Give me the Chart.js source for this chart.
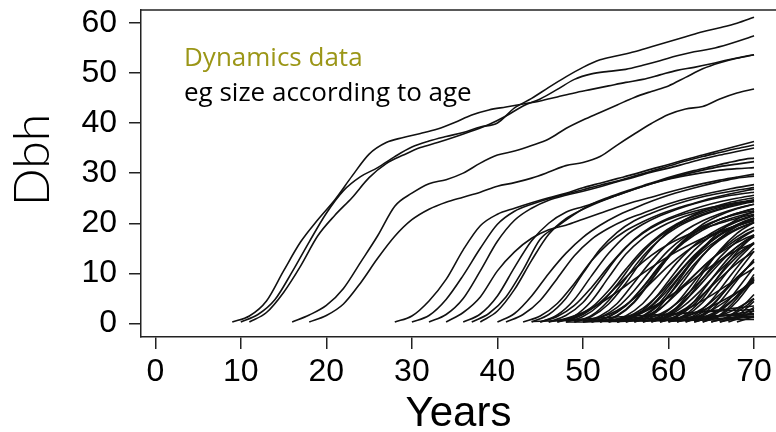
<!DOCTYPE html>
<html>
<head>
<meta charset="utf-8">
<script src="https://cdn.jsdelivr.net/npm/chart.js@4.4.1/dist/chart.umd.min.js"></script>
<style>
  html, body { margin: 0; padding: 0; background: #fff; overflow: hidden; }
  #wrap { position: relative; width: 776px; height: 432px; }
</style>
</head>
<body>
<div id="wrap"><canvas id="c" width="776" height="432"></canvas></div>
<script>
// ---- tick labels ----
const xTickValues = [0, 10, 20, 30, 40, 50, 60, 70];
const yTickValues = [0, 10, 20, 30, 40, 50, 60];
const xTitle = "Years";
const yTitle = "Dbh";
const noteLine1 = "Dynamics data";
const noteLine2 = "eg size according to age";
const yearStep = 2; // values are read every 2 years from each tree's first year, last point at year 70

// ---- oldest trees (recruited 9-18) ----
const oldStarts = [9, 10, 11, 16, 18];
const oldDbh = [
  [0.3,1.5,4.5,10.5,16.3,20.7,24.7,29.4,33.8,36.1,37.1,37.9,38.8,40.1,41.6,42.6,43.2,43.8,44.4,45.2,46.0,46.7,47.4,48.1,48.7,49.6,50.5,51.1,51.8,52.6,53.3,53.6],
  [0.3,1.8,4.8,10.3,16.3,22.0,26.5,29.3,31.1,33.3,35.2,36.4,37.3,38.1,39.2,40.0,43.0,44.9,47.1,49.2,51.1,52.6,53.4,54.2,55.2,56.2,57.2,58.2,59.0,59.9,61.1],
  [0.3,2.2,6.2,11.5,17.5,21.6,25.1,29.1,31.9,33.6,35.1,36.1,37.2,38.4,39.7,41.4,43.4,44.8,46.7,48.7,49.8,50.3,50.7,51.5,52.4,53.4,54.2,54.8,55.7,56.8,57.4],
  [0.3,1.7,3.6,7.0,12.2,17.5,23.4,26.0,27.9,28.7,30.0,32.0,33.6,34.4,35.5,36.8,38.9,40.6,42.1,43.6,45.1,46.3,47.4,49.1,50.8,52.0,52.9,53.6],
  [0.3,1.6,3.9,8.1,13.0,17.4,20.7,22.8,24.2,25.2,26.2,27.4,28.1,29.0,30.2,31.5,32.1,33.3,35.6,37.8,39.9,41.7,42.8,43.3,44.8,46.0,46.8]
];

// ---- middle cohort (recruited 28-43) ----
const midStarts = [28, 30, 32, 34, 37, 38, 36, 40, 41, 43];
const midDbh = [
  [0.3,1.5,4.5,8.8,14.7,19.5,21.8,23.0,24.1,25.1,26.0,27.1,28.0,28.9,29.8,30.8,31.7,32.7,33.6,34.5,35.4,36.3],
  [0.3,1.6,4.8,9.6,15.0,19.8,22.4,23.8,24.9,25.8,26.7,27.6,28.4,29.4,30.4,31.4,32.4,33.3,34.1,34.9,35.6],
  [0.3,1.8,5.0,10.5,16.4,20.6,23.0,24.6,25.6,26.4,27.3,28.3,29.2,30.2,31.0,31.9,32.8,33.6,34.3,35.0],
  [0.3,2.2,5.3,10.5,14.3,17.0,18.7,19.6,20.8,22.0,23.2,24.3,25.2,26.2,27.1,27.9,28.6,29.2,29.8],
  [0.3,2.0,5.3,10.7,16.8,19.4,21.8,23.8,25.2,26.4,27.5,28.6,29.6,30.5,31.3,32.1,32.8,33.0],
  [0.3,2.5,6.8,12.6,17.8,20.9,22.8,24.3,25.6,26.8,27.9,28.9,29.8,30.6,31.3,31.8,32.3],
  [0.3,1.9,5.5,11.2,16.5,20.0,22.2,23.3,24.4,25.6,26.8,27.9,28.8,29.5,30.1,30.6,30.9,31.1],
  [0.3,2.0,5.5,10.0,14.0,17.2,19.6,21.5,23.0,24.4,25.6,26.6,27.5,28.3,29.0,29.4],
  [0.3,1.8,4.6,9.0,13.5,16.8,19.0,20.7,22.0,23.3,24.4,25.3,26.1,26.8,27.4,27.7],
  [0.3,1.5,4.0,8.0,12.5,16.0,18.5,20.3,21.8,23.0,24.0,25.0,25.8,26.5,26.8]
];

// ---- young cohort (recruited 44-54) ----
const youngStarts = [44, 45, 46, 47, 48, 48, 49, 50, 51, 52, 53, 54, 46, 50, 45, 47, 49];
const youngDbh = [
  [0.3,1.8,5.0,10.0,14.8,18.2,20.5,22.0,23.3,24.4,25.3,26.0,26.6,27.1],
  [0.3,1.7,4.8,9.5,14.0,17.5,19.8,21.5,22.8,23.9,24.8,25.5,26.0,26.2],
  [0.3,1.6,4.2,8.6,13.2,16.8,19.3,21.0,22.3,23.4,24.3,25.0,25.6],
  [0.3,1.5,4.5,9.2,13.8,17.0,19.2,20.8,22.0,23.0,23.8,24.4,24.7],
  [0.3,1.4,3.8,7.8,12.3,16.0,18.6,20.4,21.8,22.9,23.8,24.5],
  [0.5,1.8,4.2,7.5,10.8,13.6,15.8,17.5,18.9,20.0,21.0,21.8],
  [0.3,1.6,4.6,9.0,13.4,16.8,19.2,20.9,22.2,23.2,24.0,24.3],
  [0.3,1.5,4.0,8.2,12.5,16.0,18.6,20.5,21.9,23.0,23.8],
  [0.3,1.4,3.6,7.3,11.6,15.3,18.0,20.0,21.4,22.5,22.9],
  [0.3,1.6,4.4,8.8,13.2,16.7,19.1,20.8,22.0,22.9],
  [0.3,1.5,4.0,8.0,12.2,15.6,18.0,19.8,21.1,21.6],
  [0.3,1.4,3.6,7.4,11.6,15.0,17.6,19.4,20.8],
  [0.3,1.0,2.2,4.0,6.3,8.8,11.2,13.4,15.3,17.0,18.4,19.6,20.6],
  [0.5,1.2,2.6,5.0,8.2,11.5,14.3,16.5,18.2,19.5,20.5],
  [0.3,1.4,3.6,7.2,11.4,15.2,18.0,20.0,21.4,22.4,23.2,23.8,24.3,24.5],
  [0.3,1.2,3.2,6.6,10.8,14.7,17.7,19.9,21.5,22.7,23.6,24.3,24.6],
  [0.3,1.4,3.9,8.0,12.8,16.8,19.7,21.7,23.1,24.1,24.8,25.1]
];

// ---- recent recruits (50-68) ----
const recentStarts = [55, 55, 56, 56, 57, 58, 58, 59, 60, 60, 61, 62, 62, 63, 64, 65, 66, 57, 59, 53, 54, 61, 63, 67, 52, 58, 60, 62, 64, 56,
                      50, 51, 53, 54, 55, 57, 59, 61, 63, 65, 52, 58, 66, 68];
const recentDbh = [
  [0.3,1.5,4.2,8.6,13.0,16.4,18.8,20.5,21.1],
  [0.5,1.3,3.0,6.0,9.6,12.8,15.2,17.0,17.7],
  [0.3,1.6,4.5,9.0,13.5,17.0,19.4,21.0],
  [0.5,1.2,2.8,5.5,9.0,12.5,15.3,17.4],
  [0.3,1.5,4.2,8.4,12.6,16.0,18.4,19.2],
  [0.3,1.6,4.6,9.0,13.2,16.4,18.6],
  [0.5,1.3,3.0,5.8,9.0,12.0,14.4],
  [0.3,1.6,4.4,8.8,13.0,16.2,17.3],
  [0.3,1.5,4.2,8.4,12.6,16.0],
  [0.5,1.3,3.0,5.8,9.2,12.3],
  [0.3,1.6,4.6,9.0,13.2,15.0],
  [0.3,1.5,4.3,8.6,12.8],
  [0.5,1.2,2.8,5.4,8.6],
  [0.3,1.6,4.6,9.0,11.2],
  [0.3,1.5,4.4,8.8],
  [0.3,1.4,4.0,5.8],
  [0.3,1.5,4.4],
  [0.4,1.0,2.0,3.6,5.6,7.8,10.0,11.0],
  [0.4,1.0,2.0,3.4,5.2,7.2,8.2],
  [0.4,1.0,2.2,4.0,6.5,9.6,12.8,15.6,17.8,18.6],
  [0.3,1.5,4.2,8.5,12.8,16.2,18.6,20.3,21.5],
  [0.5,1.2,2.6,4.8,7.4,8.8],
  [0.5,1.1,2.2,4.0,5.0],
  [0.3,1.6,2.6],
  [0.4,0.9,1.8,3.2,5.2,7.6,10.2,12.6,14.6,16.0],
  [0.3,1.8,5.2,10.0,14.6,18.0,20.2],
  [0.3,1.8,5.0,9.8,14.2,17.6],
  [0.3,1.8,5.2,10.0,14.4],
  [0.3,1.7,5.0,9.8],
  [0.3,1.8,5.5,10.5,15.0,18.4,20.8,22.4],
  [0.3,1.2,3.2,6.6,10.8,14.6,17.4,19.4,20.8,21.8,22.5],
  [0.3,1.3,3.5,7.2,11.4,15.0,17.6,19.5,20.8,21.8,22.2],
  [0.3,1.2,3.0,6.0,9.8,13.6,16.6,18.8,20.4,21.0],
  [0.3,1.3,3.4,6.8,10.8,14.4,17.0,18.9,20.2],
  [0.3,1.4,3.8,7.6,11.8,15.3,17.8,19.5,20.1],
  [0.3,1.2,3.2,6.4,10.2,13.8,16.6,17.6],
  [0.3,1.4,3.8,7.6,11.6,14.8,15.9],
  [0.3,1.3,3.6,7.2,10.8,12.4],
  [0.3,1.4,3.8,7.4,9.2],
  [0.3,1.3,3.4,4.9],
  [0.3,1.5,4.2,8.6,13.2,17.0,19.8,21.6,22.9,23.8],
  [0.4,1.5,3.8,7.0,10.6,13.8,16.2],
  [0.3,1.2,3.2],
  [0.3,1.4]
];

// ---- suppressed trees (barely growing) ----
const suppressedStarts = [44, 47, 50, 53, 56, 60, 48, 62];
const suppressedDbh = [
  [0.4,0.5,0.6,0.7,0.7,0.8,0.9,1.0,1.1,1.2,1.3,1.5,1.6,1.8],
  [0.6,0.8,1.0,1.2,1.4,1.6,1.8,2.0,2.2,2.4,2.6,2.7,2.8],
  [0.4,0.5,0.5,0.6,0.7,0.8,0.9,1.0,1.0,1.1,1.2],
  [0.8,1.0,1.3,1.6,1.9,2.2,2.6,2.9,3.3,3.5],
  [0.5,0.7,0.9,1.2,1.4,1.6,1.8,2.0],
  [0.4,0.6,0.8,1.0,1.3,1.5],
  [0.3,0.3,0.4,0.4,0.5,0.5,0.6,0.6,0.7,0.7,0.8,0.8],
  [0.6,1.0,1.5,2.0,2.5]
];

// ---- build datasets ----
const allStarts = [].concat(oldStarts, midStarts, youngStarts, recentStarts, suppressedStarts);
const allDbh = [].concat(oldDbh, midDbh, youngDbh, recentDbh, suppressedDbh);
const datasets = allDbh.map((vals, k) => ({
  data: vals.map((v, i) => ({ x: Math.min(allStarts[k] + yearStep * i, 70), y: v })),
  borderColor: '#111',
  borderWidth: 1.6,
  pointRadius: 0,
  fill: false,
  cubicInterpolationMode: 'monotone'
}));

const tickFont = { family: "'Liberation Sans', Arial, sans-serif", size: 32 };

const framePlugin = {
  id: 'frame',
  afterDraw(chart) {
    const { ctx, chartArea } = chart;
    ctx.save();
    ctx.strokeStyle = '#222';
    ctx.lineWidth = 1.5;
    ctx.beginPath();
    ctx.moveTo(chartArea.left, chartArea.top);
    ctx.lineTo(chartArea.right, chartArea.top);
    ctx.stroke();
    ctx.textBaseline = 'alphabetic';
    ctx.textAlign = 'left';
    ctx.font = "26px 'Open Sans', sans-serif";
    ctx.fillStyle = '#9b9617';
    ctx.fillText(noteLine1, 184, 66);
    ctx.fillStyle = '#000';
    ctx.fillText(noteLine2, 184, 101);
    ctx.restore();
  }
};

new Chart(document.getElementById('c'), {
  type: 'line',
  data: { datasets },
  plugins: [framePlugin],
  options: {
    responsive: false,
    animation: false,
    events: [],
    layout: { padding: { top: 10, left: 0, right: 0, bottom: 0 } },
    plugins: { legend: { display: false }, tooltip: { enabled: false } },
    scales: {
      x: {
        type: 'linear',
        min: -1.67,
        max: 72.57,
        afterBuildTicks: s => { s.ticks = xTickValues.map(v => ({ value: v })); },
        afterFit: s => { s.height = 95; s.paddingLeft = 0; s.paddingRight = 0; },
        ticks: { font: tickFont, color: '#000', padding: 4, autoSkip: false, maxRotation: 0 },
        grid: { display: true, drawOnChartArea: false, drawTicks: true, tickLength: 12, color: '#222', lineWidth: 1.5 },
        border: { display: true, color: '#222', width: 1.5 },
        title: { display: true, text: xTitle, color: '#000', font: { family: "'Liberation Sans', Arial, sans-serif", size: 42, lineHeight: 0.85 }, padding: 0 }
      },
      y: {
        type: 'linear',
        min: -2.69,
        max: 62.54,
        afterBuildTicks: s => { s.ticks = yTickValues.map(v => ({ value: v })); },
        afterFit: s => { s.width = 141; s.paddingTop = 0; s.paddingBottom = 0; },
        ticks: { font: tickFont, color: '#000', padding: 12, autoSkip: false },
        grid: { display: true, drawOnChartArea: false, drawTicks: true, tickLength: 12, color: '#222', lineWidth: 1.5 },
        border: { display: true, color: '#222', width: 1.5 },
        title: { display: true, text: '  ' + yTitle, color: '#000', font: { family: "Lato, 'Open Sans', sans-serif", size: 50, weight: '300', lineHeight: 1.2 }, padding: { top: 3, bottom: 0 } }
      }
    }
  }
});
</script>
</body>
</html>
